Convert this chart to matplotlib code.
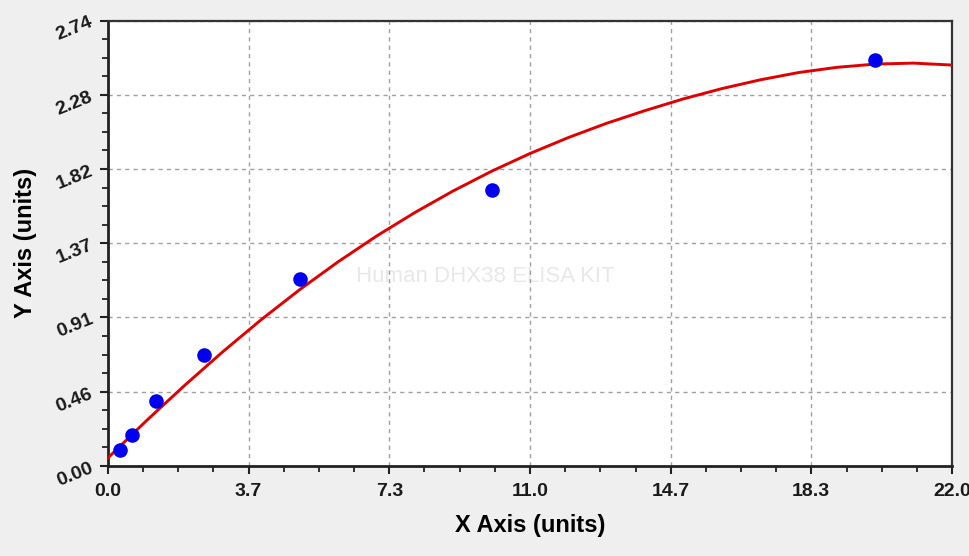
import matplotlib
matplotlib.use("Agg")
import matplotlib.pyplot as plt
from matplotlib.ticker import FixedLocator, AutoMinorLocator

# standards (concentration, OD)
std_x = [0.3125, 0.625, 1.25, 2.5, 5.0, 10.0, 20.0]
std_y = [0.098, 0.19, 0.40, 0.68, 1.15, 1.70, 2.497]

# fitted curve
fit_x = [0, 1, 2, 3, 4, 5, 6, 7, 8, 9, 10, 11, 12, 13, 14, 15, 16, 17, 18, 19, 20, 21, 22]
fit_y = [0.05, 0.278, 0.496, 0.704, 0.901, 1.085, 1.256, 1.414, 1.559, 1.692, 1.813, 1.922,
         2.020, 2.108, 2.186, 2.258, 2.321, 2.375, 2.420, 2.452, 2.472, 2.478, 2.466]

xticks = [0.0, 3.667, 7.333, 11.0, 14.667, 18.333, 22.0]
xlabels = ["0.0", "3.7", "7.3", "11.0", "14.7", "18.3", "22.0"]
yticks = [0.0, 0.4567, 0.9133, 1.37, 1.8267, 2.2833, 2.74]
ylabels = ["0.00", "0.46", "0.91", "1.37", "1.82", "2.28", "2.74"]

plt.rcParams['font.family'] = ['Liberation Sans', 'DejaVu Sans']

fig = plt.figure(figsize=(9.7, 5.56), dpi=100, facecolor='#efefef')
ax = fig.add_axes([0.1113, 0.1619, 0.8701, 0.8012])
ax.set_facecolor('white')

ax.plot(fit_x, fit_y, color='#e00000', lw=2.1, zorder=3)
ax.plot(std_x, std_y, 'o', color='#0000ee', ms=10.5, mec='none', zorder=4)

ax.set_xlim(0, 22)
ax.set_ylim(0, 2.74)
ax.xaxis.set_major_locator(FixedLocator(xticks))
ax.yaxis.set_major_locator(FixedLocator(yticks))
ax.set_xticklabels(xlabels, fontsize=14, fontweight='bold', color='#1a1a1a')
ax.set_yticklabels(ylabels, fontsize=14, fontweight='bold', color='#1a1a1a', rotation=22)
ax.xaxis.set_minor_locator(AutoMinorLocator(4))
ax.yaxis.set_minor_locator(AutoMinorLocator(4))
ax.tick_params(which='major', direction='out', length=6, width=1.5, color='#222222')
ax.tick_params(which='minor', direction='out', length=4, width=1.3, color='#222222')
ax.tick_params(axis='x', pad=6)
ax.tick_params(axis='y', pad=3)

ax.grid(True, which='major', color='#a0a0a0', lw=1, linestyle=(0, (3, 3)))

for s in ['left', 'bottom']:
    ax.spines[s].set_linewidth(2)
    ax.spines[s].set_color('#222222')
for s in ['top', 'right']:
    ax.spines[s].set_linewidth(1.6)
    ax.spines[s].set_color('#333333')

ax.set_xlabel("X Axis (units)", fontsize=17, fontweight='bold', labelpad=10)
ax.set_ylabel("Y Axis (units)", fontsize=17, fontweight='bold', labelpad=12)

ax.text(0.447, 0.425, "Human DHX38 ELISA KIT", transform=ax.transAxes, fontsize=16,
        color='#e8e8e8', ha='center', va='center', zorder=1)

fig.savefig("out.png", dpi=100, facecolor=fig.get_facecolor())
